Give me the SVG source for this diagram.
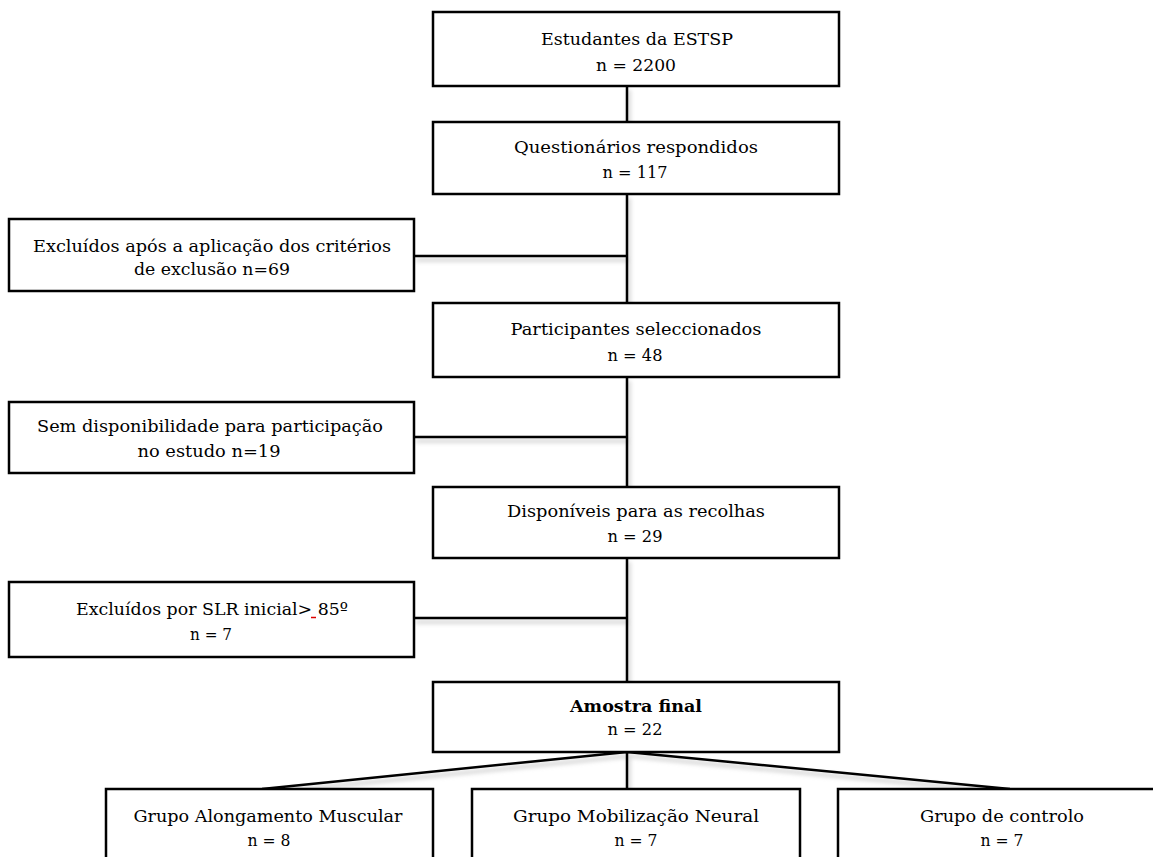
<svg xmlns="http://www.w3.org/2000/svg" width="1153" height="857" viewBox="0 0 1153 857">
<defs>
<filter id="sh" x="-5%" y="-50%" width="110%" height="200%"><feGaussianBlur stdDeviation="2"/></filter>
</defs>
<style>
.box{fill:#fff;stroke:#000;stroke-width:2.5}
.t{font-family:"DejaVu Serif","Liberation Serif",serif;font-size:17.5px;fill:#000;text-anchor:middle}
.b{font-weight:bold}
.c{stroke:#000;stroke-width:2.5;fill:none}
.s{stroke:#b8b8b8;stroke-width:3;fill:none;opacity:0.7}
</style>
<rect width="1153" height="857" fill="#fff"/>
<g id="connectors">
<g transform="translate(2,4)" filter="url(#sh)">
<path class="s" d="M627 86V122M627 194V303M414 256H627M627 377V487M414 437H627M627 558V682M414 618H627M627 752V789M627 752L262 789M627 752L1010 789"/>
</g>
<path class="c" d="M627 86V122M627 194V303M414 256H627M627 377V487M414 437H627M627 558V682M414 618H627M627 752V789M627 752L262 789M627 752L1010 789"/>
</g>
<g id="n1"><rect class="box" x="433" y="12" width="406" height="74"/><text class="t" x="637" y="45" textLength="192" lengthAdjust="spacingAndGlyphs">Estudantes da ESTSP</text><text class="t" x="636" y="71" textLength="80" lengthAdjust="spacingAndGlyphs">n = 2200</text></g>
<g id="n2"><rect class="box" x="433" y="122" width="406" height="72"/><text class="t" x="636" y="153" textLength="244" lengthAdjust="spacingAndGlyphs">Questionários respondidos</text><text class="t" x="635" y="178" textLength="65" lengthAdjust="spacingAndGlyphs">n = 117</text></g>
<g id="n3"><rect class="box" x="9" y="219" width="405" height="72"/><text class="t" x="212" y="252" textLength="358" lengthAdjust="spacingAndGlyphs">Excluídos após a aplicação dos critérios</text><text class="t" x="212" y="275" textLength="156" lengthAdjust="spacingAndGlyphs">de exclusão n=69</text></g>
<g id="n4"><rect class="box" x="433" y="303" width="406" height="74"/><text class="t" x="636" y="335" textLength="251" lengthAdjust="spacingAndGlyphs">Participantes seleccionados</text><text class="t" x="635" y="361" textLength="55" lengthAdjust="spacingAndGlyphs">n = 48</text></g>
<g id="n5"><rect class="box" x="9" y="402" width="405" height="71"/><text class="t" x="210" y="432" textLength="346" lengthAdjust="spacingAndGlyphs">Sem disponibilidade para participação</text><text class="t" x="209" y="457" textLength="143" lengthAdjust="spacingAndGlyphs">no estudo n=19</text></g>
<g id="n6"><rect class="box" x="433" y="487" width="406" height="71"/><text class="t" x="636" y="517" textLength="258" lengthAdjust="spacingAndGlyphs">Disponíveis para as recolhas</text><text class="t" x="635" y="542" textLength="55" lengthAdjust="spacingAndGlyphs">n = 29</text></g>
<g id="n7"><rect class="box" x="9" y="582" width="405" height="75"/><text class="t" x="212" y="615" textLength="272" lengthAdjust="spacingAndGlyphs">Excluídos por SLR inicial&gt; 85º</text><text class="t" x="211" y="640" textLength="42" lengthAdjust="spacingAndGlyphs">n = 7</text><line x1="311" y1="617.5" x2="316" y2="617.5" stroke="#d00" stroke-width="1.5"/></g>
<g id="n8"><rect class="box" x="433" y="682" width="406" height="70"/><text class="t b" x="636" y="712" textLength="132" lengthAdjust="spacingAndGlyphs">Amostra final</text><text class="t" x="635" y="735" textLength="55" lengthAdjust="spacingAndGlyphs">n = 22</text></g>
<g id="n9"><rect class="box" x="106" y="789" width="327" height="80"/><text class="t" x="268" y="822" textLength="269" lengthAdjust="spacingAndGlyphs">Grupo Alongamento Muscular</text><text class="t" x="269" y="846" textLength="43" lengthAdjust="spacingAndGlyphs">n = 8</text></g>
<g id="n10"><rect class="box" x="472" y="789" width="328" height="80"/><text class="t" x="636" y="822" textLength="246" lengthAdjust="spacingAndGlyphs">Grupo Mobilização Neural</text><text class="t" x="636" y="846" textLength="43" lengthAdjust="spacingAndGlyphs">n = 7</text></g>
<g id="n11"><rect class="box" x="838" y="789" width="328" height="80"/><text class="t" x="1002" y="822" textLength="164" lengthAdjust="spacingAndGlyphs">Grupo de controlo</text><text class="t" x="1002" y="846" textLength="43" lengthAdjust="spacingAndGlyphs">n = 7</text></g>
</svg>
